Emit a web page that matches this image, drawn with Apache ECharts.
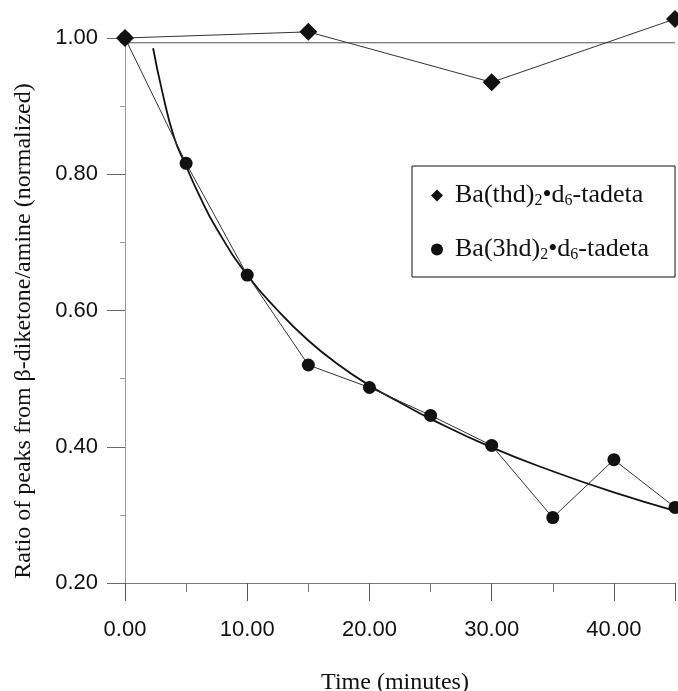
<!DOCTYPE html>
<html>
<head>
<meta charset="utf-8">
<script src="https://cdn.jsdelivr.net/npm/echarts@6/dist/echarts.min.js"></script>
<style>
  html, body { margin: 0; padding: 0; background: #fff; }
  #chart { width: 678px; height: 691px; }
</style>
</head>
<body>
<div id="chart"></div>
<script>
// ---- data ----
const timeThd = [0, 15, 30, 45];
const ratioThd = [1.000, 1.009, 0.935, 1.028];

const time3hd = [0, 5, 10, 15, 20, 25, 30, 35, 40, 45];
const ratio3hd = [1.000, 0.816, 0.652, 0.520, 0.487, 0.446, 0.402, 0.296, 0.381, 0.311];

// fitted curve
const fitTime = [2.3, 3, 4, 5, 6, 7.5, 10, 12.5, 15, 17.5, 20, 22.5, 25, 30, 35, 40, 45];
const fitRatio = [0.985, 0.925, 0.855, 0.812, 0.772, 0.72, 0.652, 0.600, 0.556, 0.520, 0.490, 0.465, 0.441, 0.399, 0.364, 0.333, 0.306];

// horizontal reference line
const refTime = [0, 45];
const refRatio = [0.993, 0.993];

const xTickLabels = ['0.00', '10.00', '20.00', '30.00', '40.00'];
const yTickLabels = ['0.20', '0.40', '0.60', '0.80', '1.00'];

const nameThd = 'Ba(thd)2•d6-tadeta';
const name3hd = 'Ba(3hd)2•d6-tadeta';
const legendRich = {};
legendRich[nameThd] = '{a|Ba(thd)}{s|2}{a|•d}{s|6}{a|-tadeta}';
legendRich[name3hd] = '{a|Ba(3hd)}{s|2}{a|•d}{s|6}{a|-tadeta}';

const zip = (xs, ys) => xs.map((x, i) => [x, ys[i]]);

const chart = echarts.init(document.getElementById('chart'), null, { renderer: 'canvas' });
const serif = '"Liberation Serif", "Times New Roman", serif';
const sans = '"Liberation Sans", Arial, sans-serif';

chart.setOption({
  backgroundColor: '#ffffff',
  animation: false,
  grid: { left: 125, right: 3, top: 38, bottom: 108, containLabel: false, outerBoundsMode: 'none' },
  xAxis: {
    type: 'value',
    min: 0, max: 45, interval: 10,
    name: 'Time (minutes)',
    nameLocation: 'middle',
    nameGap: 88,
    nameTextStyle: { fontFamily: serif, fontSize: 24, color: '#111', padding: [0, 10, 0, 0] },
    axisLine: { show: true, lineStyle: { color: '#777', width: 1 } },
    axisTick: { show: true, inside: false, length: 18, lineStyle: { color: '#555', width: 1 } },
    minorTick: { show: true, splitNumber: 2, length: 9, lineStyle: { color: '#777', width: 1 } },
    splitLine: { show: false },
    axisLabel: {
      margin: 36,
      fontFamily: sans, fontSize: 22, color: '#111',
      showMaxLabel: false,
      formatter: v => { const i = Math.round(v / 10); return (v % 10 === 0 && i < xTickLabels.length) ? xTickLabels[i] : ''; }
    }
  },
  yAxis: {
    type: 'value',
    min: 0.2, max: 1.0, interval: 0.2,
    axisLine: { show: true, lineStyle: { color: '#999', width: 1 } },
    axisTick: { show: true, inside: false, length: 18, lineStyle: { color: '#666', width: 1 } },
    minorTick: { show: true, splitNumber: 2, length: 5, lineStyle: { color: '#999', width: 1 } },
    splitLine: { show: false },
    axisLabel: {
      margin: 27,
      fontFamily: sans, fontSize: 22, color: '#111',
      formatter: v => { const i = Math.round((v - 0.2) / 0.2); return yTickLabels[i] || ''; }
    }
  },
  legend: {
    orient: 'vertical',
    left: 412, top: 166,
    padding: [16, 26, 14, 19],
    itemGap: 27,
    itemWidth: 12, itemHeight: 12,
    borderColor: '#111', borderWidth: 1,
    backgroundColor: '#fff',
    data: [
      { name: nameThd, icon: 'diamond', itemStyle: { color: '#111' } },
      { name: name3hd, icon: 'circle', itemStyle: { color: '#111' } }
    ],
    formatter: n => legendRich[n],
    textStyle: {
      padding: [0, 0, 0, 7],
      rich: {
        a: { fontFamily: serif, fontSize: 26, lineHeight: 26, color: '#111' },
        s: { fontFamily: serif, fontSize: 16, lineHeight: 16, padding: [11, 0, 0, 0], color: '#111' }
      }
    }
  },
  graphic: [{
    type: 'text',
    x: 24, y: 331,
    rotation: Math.PI / 2,
    style: {
      text: 'Ratio of peaks from β-diketone/amine (normalized)',
      fontFamily: serif, fontSize: 24, fill: '#111',
      align: 'center', verticalAlign: 'middle'
    }
  }],
  series: [
    {
      name: 'reference',
      type: 'line',
      data: zip(refTime, refRatio),
      symbol: 'none',
      clip: false,
      lineStyle: { color: '#555', width: 1 },
      z: 1, silent: true
    },
    {
      name: 'fit',
      type: 'line',
      data: zip(fitTime, fitRatio),
      symbol: 'none',
      smooth: true,
      clip: false,
      lineStyle: { color: '#111', width: 1.8 },
      z: 2, silent: true
    },
    {
      name: name3hd,
      type: 'line',
      data: zip(time3hd, ratio3hd),
      symbol: 'circle',
      symbolSize: 13,
      clip: false,
      itemStyle: { color: '#111' },
      lineStyle: { color: '#333', width: 1 },
      z: 3
    },
    {
      name: nameThd,
      type: 'line',
      data: zip(timeThd, ratioThd),
      symbol: 'diamond',
      symbolSize: [18, 18],
      clip: false,
      itemStyle: { color: '#111' },
      lineStyle: { color: '#333', width: 1 },
      z: 4
    }
  ]
});
</script>
</body>
</html>
